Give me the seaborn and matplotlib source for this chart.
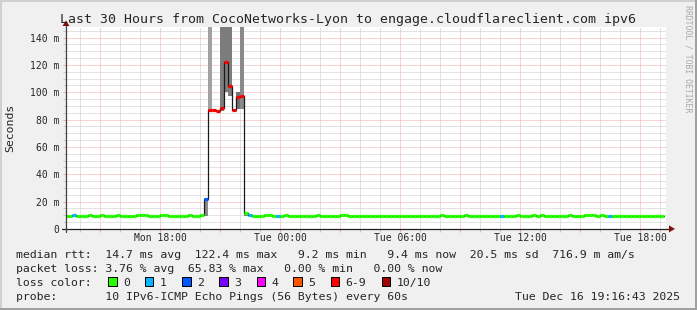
import numpy as np
import pandas as pd
import matplotlib
matplotlib.use("Agg")
import matplotlib.pyplot as plt
from matplotlib.ticker import MultipleLocator, FuncFormatter
from matplotlib.patches import Rectangle
import seaborn as sns

# ---------------- data ----------------
start_hour = 13.2      # Mon 13:12 (hours since Mon 00:00)
step_hours = 0.2       # 12-minute consolidated rows

median_ms = [
    9.5, 9.5, 10.2, 9.5, 9.5, 9.5, 10.3, 9.5, 9.5, 10.3,
    9.5, 9.4, 9.5, 10.3, 9.5, 9.5, 9.4, 9.5, 10.3, 10.2,
    10.3, 9.5, 9.5, 9.5, 10.3, 10.3, 9.5, 9.4, 9.5, 9.5,
    9.5, 10.2, 9.5, 9.5, 10.3, 22.0, 87.0, 87.0, 86.3, 88.7,
    122.4, 104.8, 87.0, 96.3, 97.3, 11.4, 10.2, 9.5, 9.4, 9.5,
    10.3, 10.3, 9.5, 9.5, 9.5, 10.3, 9.5, 9.5, 9.5, 9.5,
    9.5, 9.5, 9.5, 10.3, 9.5, 9.5, 9.5, 9.5, 9.5, 10.3,
    10.3, 9.5, 9.5, 9.5, 9.5, 9.5, 9.5, 9.5, 9.5, 9.5,
    9.5, 9.5, 9.5, 9.5, 9.5, 9.5, 9.5, 9.5, 9.5, 9.5,
    9.5, 9.5, 9.5, 9.5, 10.3, 9.5, 9.5, 9.5, 9.5, 9.5,
    10.3, 9.5, 9.5, 9.5, 9.5, 9.5, 9.5, 9.5, 9.5, 9.5,
    9.5, 9.5, 9.5, 10.3, 9.5, 9.5, 9.5, 10.3, 9.5, 10.3,
    9.5, 9.5, 9.5, 9.5, 9.5, 9.5, 10.3, 9.5, 9.5, 9.5,
    10.3, 10.3, 10.3, 9.5, 10.3, 9.5, 9.5, 9.5, 9.5, 9.5,
    9.5, 9.5, 9.5, 9.5, 9.5, 9.5, 9.5, 9.5, 9.5, 9.5,
]

loss_count = [
    0, 0, 1, 0, 0, 0, 0, 0, 0, 0,
    0, 0, 0, 0, 0, 0, 0, 0, 0, 0,
    0, 0, 0, 0, 0, 0, 0, 0, 0, 0,
    0, 0, 0, 0, 0, 2, 6, 7, 7, 7,
    7, 6, 7, 6, 6, 0, 1, 0, 0, 0,
    0, 0, 0, 1, 0, 0, 0, 0, 0, 0,
    0, 0, 0, 0, 0, 0, 0, 0, 0, 0,
    0, 0, 0, 0, 0, 0, 0, 0, 0, 0,
    0, 0, 0, 0, 0, 0, 0, 0, 0, 0,
    0, 0, 0, 0, 0, 0, 0, 0, 0, 0,
    0, 0, 0, 0, 0, 0, 0, 0, 0, 1,
    0, 0, 0, 0, 0, 0, 0, 0, 0, 0,
    0, 0, 0, 0, 0, 0, 0, 0, 0, 0,
    0, 0, 0, 0, 0, 0, 1, 0, 0, 0,
    0, 0, 0, 0, 0, 0, 0, 0, 0, 0,
]

# smoke (ping spread) for the rows where it is visible
smoke_idx = [31, 35, 36, 39, 40, 41, 43, 44, 45]
smoke_lo = [9.5, 9.5, 86.0, 86.0, 100.0, 97.0, 88.0, 88.0, 9.5]
smoke_hi = [10.9, 22.0, 160.0, 160.0, 160.0, 160.0, 100.5, 160.0, 12.0]
smoke_shade = ["#b4b4b4", "#8a8a8a", "#a2a2a2", "#7c7c7c", "#7c7c7c",
               "#7c7c7c", "#727272", "#8a8a8a", "#808080"]

loss_labels = ["0", "1", "2", "3", "4", "5", "6-9", "10/10"]
loss_colors = ["#26ff00", "#00b8ff", "#0059ff", "#7e00ff",
               "#ff00ff", "#ff5500", "#ff0000", "#a10000"]

x_tick_hours = [18, 24, 30, 36, 42]
x_tick_labels = ["Mon 18:00", "Tue 00:00", "Tue 06:00", "Tue 12:00", "Tue 18:00"]
x_range = (13.278, 43.278)
y_range = (0, 148)

title = "Last 30 Hours from CocoNetworks-Lyon to engage.cloudflareclient.com ipv6"
stat_lines = [
    "median rtt:  14.7 ms avg  122.4 ms max   9.2 ms min   9.4 ms now  20.5 ms sd  716.9 m am/s",
    "packet loss: 3.76 % avg  65.83 % max   0.00 % min   0.00 % now",
    "loss color:",
    "probe:       10 IPv6-ICMP Echo Pings (56 Bytes) every 60s",
]
stamp = "Tue Dec 16 19:16:43 2025"
watermark = "RRDTOOL / TOBI OETIKER"

# ---------------- style ----------------
sns.set_style("white")
plt.rcParams["font.family"] = ["DejaVu Sans Mono", "DejaVu Sans"]

W, H = 697, 310
fig = plt.figure(figsize=(W / 100, H / 100), dpi=100, facecolor="#f0f0f0")
ax_left, ax_right, ax_bottom_px, ax_top_px = 66, 666, 228.9, 26.7
ax = fig.add_axes([ax_left / W, (H - ax_bottom_px) / H,
                   (ax_right - ax_left) / W, (ax_bottom_px - ax_top_px) / H])
ax.set_facecolor("white")

n = len(median_ms)
t = start_hour + step_hours * np.arange(n)

# smoke
for i, lo, hi, sh in zip(smoke_idx, smoke_lo, smoke_hi, smoke_shade):
    ax.fill_between([t[i], t[i] + step_hours], lo, hi, color=sh, lw=0, zorder=2)

# median black step line
df = pd.DataFrame({"hour": np.append(t, t[-1] + step_hours),
                   "ms": median_ms + [median_ms[-1]]})
sns.lineplot(data=df, x="hour", y="ms", estimator=None, sort=False,
             drawstyle="steps-post", color="#1a1a1a", lw=0.9, ax=ax, zorder=3)


def loss_bucket(c):
    if c >= 10:
        return 7
    if c >= 6:
        return 6
    return c


cols = [loss_colors[loss_bucket(c)] for c in loss_count]
ax.hlines(median_ms, t, t + step_hours, colors=cols, lw=2.3, zorder=4,
          capstyle="butt")

ax.set_xlim(*x_range)
ax.set_ylim(*y_range)
ax.set_xlabel("")
ax.set_ylabel("")

# grid
grid_c = "#c8c8c8"
mgrid_c = "#f0a8a8"
ax.xaxis.set_major_locator(MultipleLocator(3))
ax.xaxis.set_minor_locator(MultipleLocator(1))
ax.yaxis.set_major_locator(MultipleLocator(20))
ax.yaxis.set_minor_locator(MultipleLocator(5))
ax.grid(which="major", color=mgrid_c, ls=(0, (1, 1)), lw=0.72)
ax.grid(which="minor", color=grid_c, ls=(0, (1, 1)), lw=0.72)
ax.set_axisbelow(True)

lab = dict(zip(x_tick_hours, x_tick_labels))
ax.xaxis.set_major_formatter(FuncFormatter(lambda v, p: lab.get(int(round(v)), "")))
ax.yaxis.set_major_formatter(FuncFormatter(lambda v, p: f"{int(v)} m" if v else "0"))
ax.tick_params(which="major", length=2, width=0.72, color=mgrid_c, labelsize=7.05,
               direction="out")
ax.tick_params(which="minor", length=2, width=0.72, color=grid_c, direction="out")
ax.tick_params(axis="x", which="major", pad=0.6)
ax.tick_params(axis="y", which="major", pad=2.9)
ax.tick_params(axis="both", which="both", bottom=True, left=True)

for s in ax.spines.values():
    s.set_visible(False)

# axis lines with arrows
tr = ax.transAxes
pw = ax_right - ax_left
ph = ax_bottom_px - ax_top_px
ax.plot([-4 / pw, 669 / pw - 66 / pw + 0.0], [0, 0], color="#202020", lw=0.9,
        transform=tr, clip_on=False, zorder=6)
ax.plot([0, 0], [-3 / ph, (ax_bottom_px - 26) / ph], color="#404040", lw=0.9,
        transform=tr, clip_on=False, zorder=6)
arrow_c = "#801010"
x0 = (669 - ax_left) / pw
ax.fill([x0, x0, (675 - ax_left) / pw], [-3.5 / ph, 3.5 / ph, 0], color=arrow_c,
        transform=tr, clip_on=False, zorder=7, lw=0)
y0 = (ax_bottom_px - 26) / ph
ax.fill([-3.5 / pw, 3.5 / pw, 0], [y0, y0, (ax_bottom_px - 20.5) / ph],
        color=arrow_c, transform=tr, clip_on=False, zorder=7, lw=0)


def fx(px):
    return px / W


def fy(py):
    return 1 - py / H


# texts
fig.text(fx(348), fy(23.5), title, ha="center", va="baseline", fontsize=9.5)
fig.text(fx(10.5), fy(128), "Seconds", rotation=90, ha="center", va="center",
         fontsize=8.25)
fig.text(fx(688), fy(5), watermark, rotation=-90, ha="center", va="top",
         fontsize=5.9, color="#a8a8a8")

baselines = [257.6, 271.8, 286.0, 300.2]
for s, b in zip(stat_lines, baselines):
    fig.text(fx(16), fy(b), s, ha="left", va="baseline", fontsize=8.25)
fig.text(fx(680), fy(baselines[3]), stamp, ha="right", va="baseline", fontsize=8.25)

box_x = [108.3, 145.0, 182.3, 219.3, 256.7, 293.3, 330.7, 381.7]
for bx, lbl, c in zip(box_x, loss_labels, loss_colors):
    fig.add_artist(Rectangle((fx(bx), fy(286.3)), 8.3 / W, 9.3 / H,
                             transform=fig.transFigure, facecolor=c,
                             edgecolor="black", lw=0.72))
    fig.text(fx(bx + 15), fy(baselines[2]), lbl, ha="left", va="baseline",
             fontsize=8.25)

# 3D frame
fig.add_artist(Rectangle((0, 1 - 2 / H), 1, 2 / H, transform=fig.transFigure,
                         color="#d0d0d0", lw=0))
fig.add_artist(Rectangle((0, 0), 2 / W, 1, transform=fig.transFigure,
                         color="#d0d0d0", lw=0))
fig.add_artist(Rectangle((0, 0), 1, 2 / H, transform=fig.transFigure,
                         color="#a0a0a0", lw=0))
fig.add_artist(Rectangle((1 - 2 / W, 0), 2 / W, 1, transform=fig.transFigure,
                         color="#a0a0a0", lw=0))

fig.savefig("out.png", dpi=100, facecolor=fig.get_facecolor())
